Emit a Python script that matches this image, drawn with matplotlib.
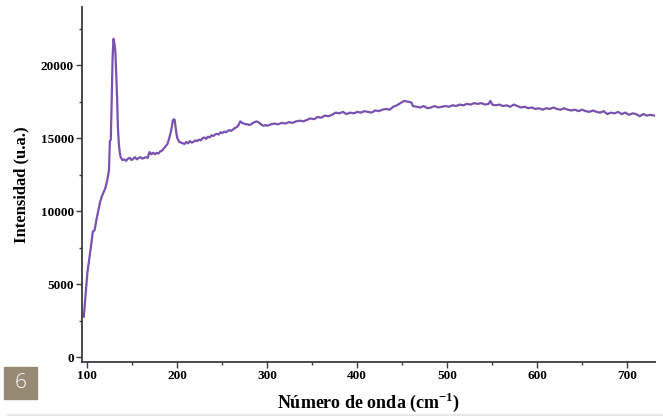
import matplotlib
matplotlib.use('Agg')
from matplotlib import pyplot as plt
from matplotlib.ticker import MultipleLocator
import matplotlib.patches as patches

# Raman-like spectrum
wavenumber = [96, 98, 100, 102, 104, 106, 108, 110, 112, 114, 116, 118, 120, 122, 124,
              125, 126, 127, 128, 129, 130, 131, 132, 133, 134, 135, 136, 137, 139, 141,
              143, 145, 147, 149, 151, 153, 155, 157, 159, 161, 163, 165, 167, 169, 171,
              173, 175, 177, 179, 181, 183, 185, 187, 189, 191, 193, 195, 196, 197, 198,
              199, 200, 202, 204, 206, 208, 210, 212, 214, 216, 218, 220, 222, 224, 226,
              228, 230, 232, 234, 236, 238, 240, 242, 244, 246, 248, 250, 252, 254, 256,
              258, 260, 262, 264, 266, 268, 270, 272, 274, 276, 278, 280, 282, 284, 286,
              288, 290, 292, 294, 296, 298, 300, 304, 308, 312, 316, 320, 324, 328, 332,
              336, 340, 344, 348, 352, 356, 360, 364, 368, 372, 376, 380, 384, 388, 392,
              396, 400, 404, 408, 412, 416, 420, 424, 428, 432, 436, 440, 444, 448, 452,
              456, 460, 462, 466, 470, 474, 478, 482, 486, 490, 494, 498, 502, 506, 510,
              514, 518, 522, 526, 530, 534, 538, 542, 546, 548, 550, 554, 558, 562, 566,
              570, 574, 578, 582, 586, 590, 594, 598, 602, 606, 610, 614, 618, 622, 626,
              630, 634, 638, 642, 646, 650, 654, 658, 662, 666, 670, 674, 678, 682, 686,
              690, 694, 698, 702, 706, 710, 714, 718, 722, 726, 730]

intensity = [2780, 4300, 5800, 6700, 7600, 8600, 8700, 9400, 10000, 10600, 11000, 11300, 11600, 12100, 12800,
             14800, 14900, 17500, 20500, 21800, 21500, 21000, 19500, 17800, 15600, 14600, 14000, 13700, 13500, 13550,
             13450, 13600, 13650, 13500, 13600, 13700, 13550, 13650, 13700, 13600, 13650, 13700, 13650, 14050, 13900,
             14000, 13900, 14000, 13950, 14100, 14150, 14300, 14450, 14600, 15000, 15500, 16200, 16300, 16250, 15800,
             15300, 15000, 14750, 14700, 14650, 14600, 14750, 14650, 14800, 14700, 14750, 14850, 14800, 14900, 14850,
             15000, 15050, 14950, 15100, 15050, 15200, 15150, 15250, 15300, 15250, 15400, 15350, 15450, 15400, 15500,
             15550, 15500, 15600, 15700, 15750, 15900, 16150, 16050, 16000, 15950, 15950, 15900, 15950, 16050, 16100,
             16150, 16100, 16000, 15900, 15850, 15900, 15850, 15950, 16000, 15950, 16050, 16000, 16100, 16050, 16150,
             16200, 16150, 16250, 16350, 16300, 16450, 16400, 16550, 16500, 16600, 16750, 16700, 16800, 16650, 16750,
             16700, 16800, 16750, 16850, 16800, 16750, 16900, 16850, 16950, 17000, 16950, 17150, 17250, 17400, 17550,
             17500, 17450, 17200, 17150, 17100, 17200, 17050, 17100, 17200, 17100, 17150, 17200, 17150, 17250, 17200,
             17300, 17250, 17350, 17300, 17400, 17350, 17400, 17300, 17350, 17550, 17300, 17250, 17300, 17200, 17250,
             17150, 17300, 17200, 17100, 17150, 17050, 17100, 17000, 17050, 16950, 17050, 17000, 17100, 17000, 16950,
             17050, 16950, 16900, 16950, 16850, 16950, 16850, 16800, 16900, 16800, 16750, 16850, 16650, 16750, 16700,
             16800, 16650, 16750, 16600, 16700, 16650, 16500, 16650, 16550, 16600, 16550]

plt.rcParams['font.family'] = ['Liberation Serif', 'DejaVu Serif']
plt.rcParams['mathtext.fontset'] = 'custom'
plt.rcParams['mathtext.rm'] = 'Liberation Serif'
plt.rcParams['mathtext.bf'] = 'Liberation Serif:bold'

fig = plt.figure(figsize=(6.63, 4.16), dpi=100)
ax = fig.add_axes([82 / 663, 1 - 362 / 416, (655 - 82) / 663, (362 - 6.7) / 416])

ax.plot(wavenumber, intensity, color='#7952b0', linewidth=1.6)

ax.set_xlim(94, 731)
ax.set_ylim(-320, 24000)
ax.xaxis.set_major_locator(MultipleLocator(100))
ax.xaxis.set_minor_locator(MultipleLocator(50))
ax.yaxis.set_major_locator(MultipleLocator(5000))
ax.yaxis.set_minor_locator(MultipleLocator(2500))

for s in ['top', 'right']:
    ax.spines[s].set_visible(False)
for s in ['left', 'bottom']:
    ax.spines[s].set_color('#3a3a40')
    ax.spines[s].set_linewidth(1.3)

ax.tick_params(which='major', length=4, width=1, color='#3a3a40', pad=2,
               labelsize=9.5)
ax.tick_params(which='minor', length=2.5, width=1, color='#3a3a40')
for lab in ax.get_xticklabels() + ax.get_yticklabels():
    lab.set_fontweight('bold')

ax.set_xlabel('Número de onda (cm$^{\\mathbf{-1}}$)', fontsize=13, fontweight='bold', labelpad=6)
ax.set_ylabel('Intensidad (u.a.)', fontsize=12, fontweight='bold', labelpad=8)

# figure number badge and bottom rule
fig.patches.append(patches.Rectangle((4 / 663, 1 - 399 / 416), 33 / 663, 32 / 416,
                                     transform=fig.transFigure, color='#978a74'))
fig.text(20.5 / 663, 1 - 383 / 416, '6', color='white', fontsize=15,
         family='Open Sans', fontweight='light', ha='center', va='center')
fig.add_artist(plt.Line2D([8 / 663, 1], [1 - 415 / 416] * 2, color='#e4e4e4', linewidth=1.2))

fig.savefig('out.png', dpi=100)
